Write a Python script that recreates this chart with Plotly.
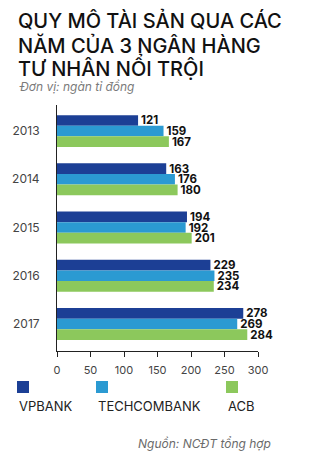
import plotly.graph_objects as go

years = ["2013", "2014", "2015", "2016", "2017"]
series_names = ["VPBANK", "TECHCOMBANK", "ACB"]
vpbank = [121, 163, 194, 229, 278]
techcombank = [159, 176, 192, 235, 269]
acb = [167, 180, 201, 234, 284]
colors = ["#1c3f95", "#2b9ad2", "#8cc85c"]
x_ticks = [0, 50, 100, 150, 200, 250, 300]

title_lines = ["QUY MÔ TÀI SẢN QUA CÁC", "NĂM CỦA 3 NGÂN HÀNG", "TƯ NHÂN NỔI TRỘI"]
subtitle = "Đơn vị: ngàn tỉ đồng"
source = "Nguồn: NCĐT tổng hợp"

W, H = 332, 455
L, R, T, B = 57, 258, 105, 351  # plot area in px


def px(x):
    return (x - L) / (R - L)


def py(y):
    return (B - y) / (B - T)


FONT = "Inter"
fig = go.Figure()
for name, vals, col in zip(series_names, [vpbank, techcombank, acb], colors):
    fig.add_trace(go.Bar(
        y=years, x=vals, orientation="h", name=name,
        marker=dict(color=col, line=dict(width=0)),
        text=[str(v) for v in vals], textposition="outside",
        textfont=dict(family=FONT, size=11.5, color="#111111", weight=700),
        constraintext="none", cliponaxis=False, showlegend=False,
    ))

fig.update_layout(
    width=W, height=H,
    margin=dict(l=L, r=W - R, t=T, b=H - B),
    paper_bgcolor="white", plot_bgcolor="white",
    barmode="group", bargap=0.34, bargroupgap=0,
    font=dict(family=FONT, color="#333333"),
    xaxis=dict(range=[0, 300], tickvals=x_ticks, showgrid=False, zeroline=False,
               showline=True, linecolor="#222222", linewidth=1,
               ticks="outside", ticklen=5, tickcolor="#222222",
               tickfont=dict(size=11, color="#444444"), ticklabelstandoff=4),
    yaxis=dict(type="category", range=[4.56, -0.54], showgrid=False,
               showline=True, linecolor="#222222", linewidth=1, ticks="",
               tickfont=dict(size=12, color="#444444"), ticklabelstandoff=14),
)

ann = []
for line, yc in zip(title_lines, [21, 45, 67]):
    ann.append(dict(text=line, x=px(16), y=py(yc), xref="paper", yref="paper",
                    xanchor="left", yanchor="middle", showarrow=False,
                    font=dict(family=FONT, size=20, color="#111111", weight=500)))
ann.append(dict(text=subtitle, x=px(17), y=py(86), xref="paper", yref="paper",
                xanchor="left", yanchor="middle", showarrow=False,
                font=dict(family=FONT, size=12, color="#7a7a7a", style="italic")))
legend_x = [17, 96, 226]
for name, col, lx in zip(series_names, colors, legend_x):
    fig.add_shape(type="rect", xref="paper", yref="paper",
                  x0=px(lx), x1=px(lx + 12), y0=py(381), y1=py(393),
                  fillcolor=col, line=dict(width=0))
    ann.append(dict(text=name, x=px(lx), y=py(406), xref="paper", yref="paper",
                    xanchor="left", yanchor="middle", showarrow=False,
                    font=dict(family=FONT, size=13, color="#222222")))
ann.append(dict(text=source, x=px(273), y=py(443), xref="paper", yref="paper",
                xanchor="right", yanchor="middle", showarrow=False,
                font=dict(family=FONT, size=12, color="#6a6a6a", style="italic")))
fig.update_layout(annotations=ann)

fig.write_html("out.html")
